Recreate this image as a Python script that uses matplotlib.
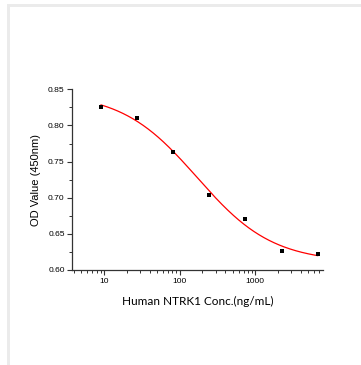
import numpy as np
import matplotlib
matplotlib.use("Agg")
import matplotlib.pyplot as plt
from matplotlib.patches import Rectangle
from matplotlib.ticker import LogLocator, NullFormatter, MultipleLocator, FixedLocator

# Data
conc = [9.14, 27.4, 82.3, 246.9, 740.7, 2222.2, 6666.7]
od = [0.826, 0.810, 0.763, 0.704, 0.671, 0.626, 0.622]
x_ticks = [10, 100, 1000]
x_tick_labels = ["10", "100", "1000"]
y_ticks = [0.60, 0.65, 0.70, 0.75, 0.80, 0.85]

x = np.array(conc)
y = np.array(od)

# 4-parameter logistic fit (grid search on C,B; linear solve for A,D)
best = None
for logC in np.linspace(1.0, 3.5, 251):
    C = 10 ** logC
    for B in np.linspace(0.3, 2.5, 221):
        g = 1.0 / (1.0 + (x / C) ** B)
        M = np.column_stack([g, 1 - g])
        coef, *_ = np.linalg.lstsq(M, y, rcond=None)
        r = np.sum((M @ coef - y) ** 2)
        if best is None or r < best[0]:
            best = (r, C, B, coef[0], coef[1])
_, C, B, A, D = best
xf = np.logspace(np.log10(x.min()), np.log10(x.max()), 300)
yf = D + (A - D) / (1.0 + (xf / C) ** B)

fig = plt.figure(figsize=(3.61, 3.65), dpi=100)
fig.patches.append(Rectangle((7 / 361, 0), 2.5 / 361, 1 - 4 / 365, transform=fig.transFigure,
                             facecolor="#ebebeb", edgecolor="none", zorder=0))
fig.patches.append(Rectangle((7 / 361, 1 - 6.5 / 365), 1 - 7 / 361, 2.5 / 365, transform=fig.transFigure,
                             facecolor="#ebebeb", edgecolor="none", zorder=0))

ax = fig.add_axes([72.3 / 361, 1 - 270 / 365, (323 - 72.3) / 361, (270 - 89.3) / 365])
ax.plot(xf, yf, color="#ff0000", lw=0.9, zorder=2)
ax.scatter(x, y, marker="s", s=12, color="black", zorder=3, linewidths=0)

ax.set_xscale("log")
ax.set_xlim(3.81, 7840)
ax.set_ylim(0.60, 0.85)
ax.xaxis.set_major_locator(FixedLocator(x_ticks))
ax.set_xticklabels(x_tick_labels)
ax.xaxis.set_minor_locator(LogLocator(base=10, subs=np.arange(2, 10)))
ax.xaxis.set_minor_formatter(NullFormatter())
ax.set_yticks(y_ticks)
ax.set_yticklabels([f"{v:.2f}" for v in y_ticks])
ax.yaxis.set_minor_locator(MultipleLocator(0.025))

for s in ["top", "right"]:
    ax.spines[s].set_visible(False)
for s in ["left", "bottom"]:
    ax.spines[s].set_linewidth(0.9)
    ax.spines[s].set_color("#333333")

ax.tick_params(which="major", direction="out", length=3.5, width=0.8, color="#333333",
               labelsize=6.1, pad=2)
ax.tick_params(which="minor", direction="out", length=2, width=0.7, color="#333333")
for lbl in ax.get_xticklabels() + ax.get_yticklabels():
    lbl.set_fontfamily("Liberation Sans")

ax.set_ylabel("OD Value (450nm)", fontsize=8, family="Liberation Sans", labelpad=5)
ax.set_xlabel("Human NTRK1 Conc.(ng/mL)", fontsize=8.5, family="Lato", labelpad=8.5)

fig.savefig("out.png", dpi=100)
